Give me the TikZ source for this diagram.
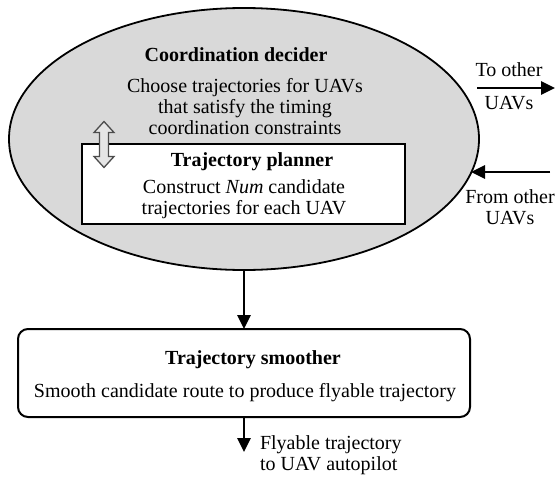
\documentclass[tikz,border=0pt]{standalone}
\usepackage{fontspec}
\setmainfont{Liberation Serif}
\usetikzlibrary{shapes.geometric,arrows.meta}
\begin{document}
\begin{tikzpicture}[x=1pt,y=-1pt,
  every node/.style={inner sep=0pt,outer sep=0pt,font=\fontsize{20}{21}\selectfont},
  txt/.style={align=center},
  ttl/.style={font=\fontsize{20}{21}\selectfont\bfseries},
  flow/.style={line width=2.8pt,-{Triangle[length=14pt,width=13pt]}},
  decider/.style={ellipse,draw,line width=1.8pt,fill=gray!30,minimum width=470pt,minimum height=262pt},
  planbox/.style={rectangle,draw,line width=2pt,fill=white,minimum width=323pt,minimum height=80pt},
  smoothbox/.style={rectangle,rounded corners=10pt,draw,line width=2pt,fill=white,minimum width=452pt,minimum height=88pt},
  swap/.style={draw=black!70,fill=gray!20,line width=1.3pt,line join=miter}]
\useasboundingbox (0,0) rectangle (556,479);

% coordination decider with the trajectory planner inside
\node[decider] (cd) at (244,139) {};
\node[ttl] (cdt) at (236,55) {Coordination decider};
\node[txt] (cdd) at (245,107) {Choose trajectories for UAVs\\that satisfy the timing\\coordination constraints};
\node[planbox] (tp) at (243.5,184) {};
\node[ttl] (tpt) at (252,162) {Trajectory planner};
\node[txt] (tpd) at (244,199.5) {Construct \textit{Num} candidate\\trajectories for each UAV};

% two-way exchange between decider and planner
\coordinate (sw) at (104,144.5);
\draw[swap,shift={(sw)}] (0,-23) -- (10,-12) -- (4.5,-12) -- (4.5,12) -- (10,12)
  -- (0,23) -- (-10,12) -- (-4.5,12) -- (-4.5,-12) -- (-10,-12) -- cycle;

% trajectory smoother
\node[smoothbox] (ts) at (244,373) {};
\node[ttl] (tst) at (253,360) {Trajectory smoother};
\node[txt] (tsd) at (245,393) {Smooth candidate route to produce flyable trajectory};

% links to other UAVs
\coordinate (toS) at (477,88);
\coordinate (toE) at (555,88);
\coordinate (fromS) at (550,172);
\coordinate (fromE) at (471,172);
\coordinate (outE) at (244,452);
\draw[flow] (toS) -- (toE);
\draw[flow] (fromS) -- (fromE);
\node[txt] (tol1) at (509,70) {To other};
\node[txt] (tol2) at (509,103) {UAVs};
\node[txt] (fol) at (510,207.5) {From other\\UAVs};

% flow down to the autopilot
\draw[flow] (cd.south) -- (ts.north);
\draw[flow] (ts.south) -- (outE);
\node[txt,align=left,anchor=west] (out) at (260,455) {Flyable trajectory\\to UAV autopilot};
\end{tikzpicture}
\end{document}
